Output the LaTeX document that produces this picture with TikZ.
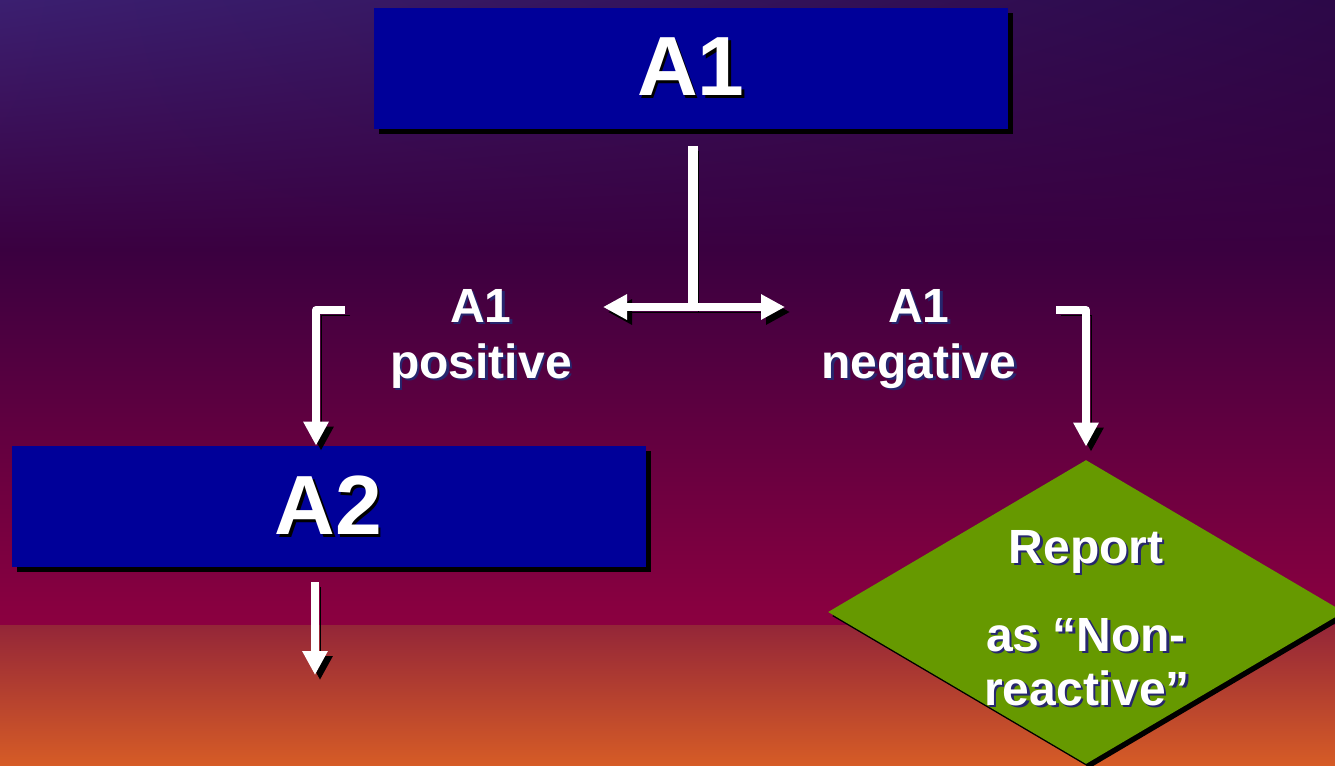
\documentclass[tikz,border=0pt]{standalone}
\usepackage{fontspec}
\setmainfont{Liberation Sans}
\usepackage{xcolor}
\usetikzlibrary{shapes.geometric,arrows.meta,positioning,calc,shadows,shadings}

\definecolor{boxblue}{HTML}{000099}
\definecolor{repgreen}{HTML}{669900}
\definecolor{txtshadow}{HTML}{26266E}
\definecolor{bgtopl}{HTML}{3B1F70}
\definecolor{bgtopr}{HTML}{2C0848}
\definecolor{bgdark}{HTML}{3A0040}
\definecolor{bgred}{HTML}{8C0040}
\definecolor{bgmid}{HTML}{942638}
\definecolor{bgorange}{HTML}{D65C26}

% text with a small offset shadow
\newcommand{\sdw}[2][black]{\makebox[0pt][l]{\hspace{1.2pt}\raisebox{-1.2pt}{\color{#1}#2}}#2}

\begin{document}
\begin{tikzpicture}[x=0.5pt, y=-0.5pt,
    box/.style={fill=boxblue, minimum width=317pt, minimum height=60.5pt, inner sep=0pt,
        text=white, font=\fontsize{42}{42}\bfseries\selectfont,
        drop shadow={shadow xshift=2.5pt, shadow yshift=-2.5pt, fill=black, opacity=1}},
    decision/.style={diamond, fill=repgreen, minimum width=258pt, minimum height=152pt, inner sep=0pt,
        drop shadow={shadow xshift=2pt, shadow yshift=-2pt, fill=black, opacity=1}},
    lbl/.style={text=white, font=\fontsize{24}{28}\bfseries\selectfont, anchor=base, inner sep=0pt},
    wire/.style={draw=white, line width=4pt, line join=round,
        preaction={draw=black, transform canvas={shift={(2.5pt,-2.5pt)}}}},
    tip/.style={-{Triangle[length=12pt,width=12pt]}}]
    \useasboundingbox (0,0) rectangle (1335,766);
    \clip (0,0) rectangle (1335,766);

    % Background
    \shade[upper left=bgtopl, upper right=bgtopr, lower left=bgdark, lower right=bgdark] (0,0) rectangle (1335,250);
    \shade[top color=bgdark, bottom color=bgred] (0,249) rectangle (1335,626);
    \shade[top color=bgmid, bottom color=bgorange] (0,625) rectangle (1335,766);

    % Boxes
    \node[box] (a1) at (691,68) {\sdw{A1}};
    \node[box] (a2) at (328.5,506.5) {\sdw{A2}};
    \node[decision] (rep) at (1086,612) {};

    % Labels
    \node[lbl] (pos1) at (481,322) {\sdw[txtshadow]{A1}};
    \node[lbl] (pos2) at (481,378) {\sdw[txtshadow]{positive}};
    \node[lbl] (neg1) at (919,322) {\sdw[txtshadow]{A1}};
    \node[lbl] (neg2) at (919,378) {\sdw[txtshadow]{negative}};
    \node[lbl] (rep1) at (1086,563) {\sdw[txtshadow]{Report}};
    \node[lbl] (rep2) at (1086,651) {\sdw[txtshadow]{as “Non-}};
    \node[lbl] (rep3) at (1087,705) {\sdw[txtshadow]{reactive”}};

    % Split point and arrow ends
    \coordinate (split) at (693,307);
    \coordinate (lt) at (603,307);
    \coordinate (rt) at (785,307);
    \coordinate (lbend) at (345,310);
    \coordinate (rbend) at (1056,310);
    \coordinate (out) at (315,675);

    % Connectors
    \draw[wire, line width=5pt] ([xshift=1pt, yshift=-8.5pt]a1.south) -- (split);
    \draw[wire, {Triangle[length=12pt,width=12pt]}-{Triangle[length=12pt,width=12pt]}] (lt) -- (rt);
    \draw[wire, tip] (lbend) -| ([xshift=-6.25pt]a2.north);
    \draw[wire, tip] (rbend) -| ([yshift=6.5pt]rep.north);
    \draw[wire, tip] ([xshift=-6.75pt, yshift=-7.5pt]a2.south) -- (out);
\end{tikzpicture}
\end{document}
